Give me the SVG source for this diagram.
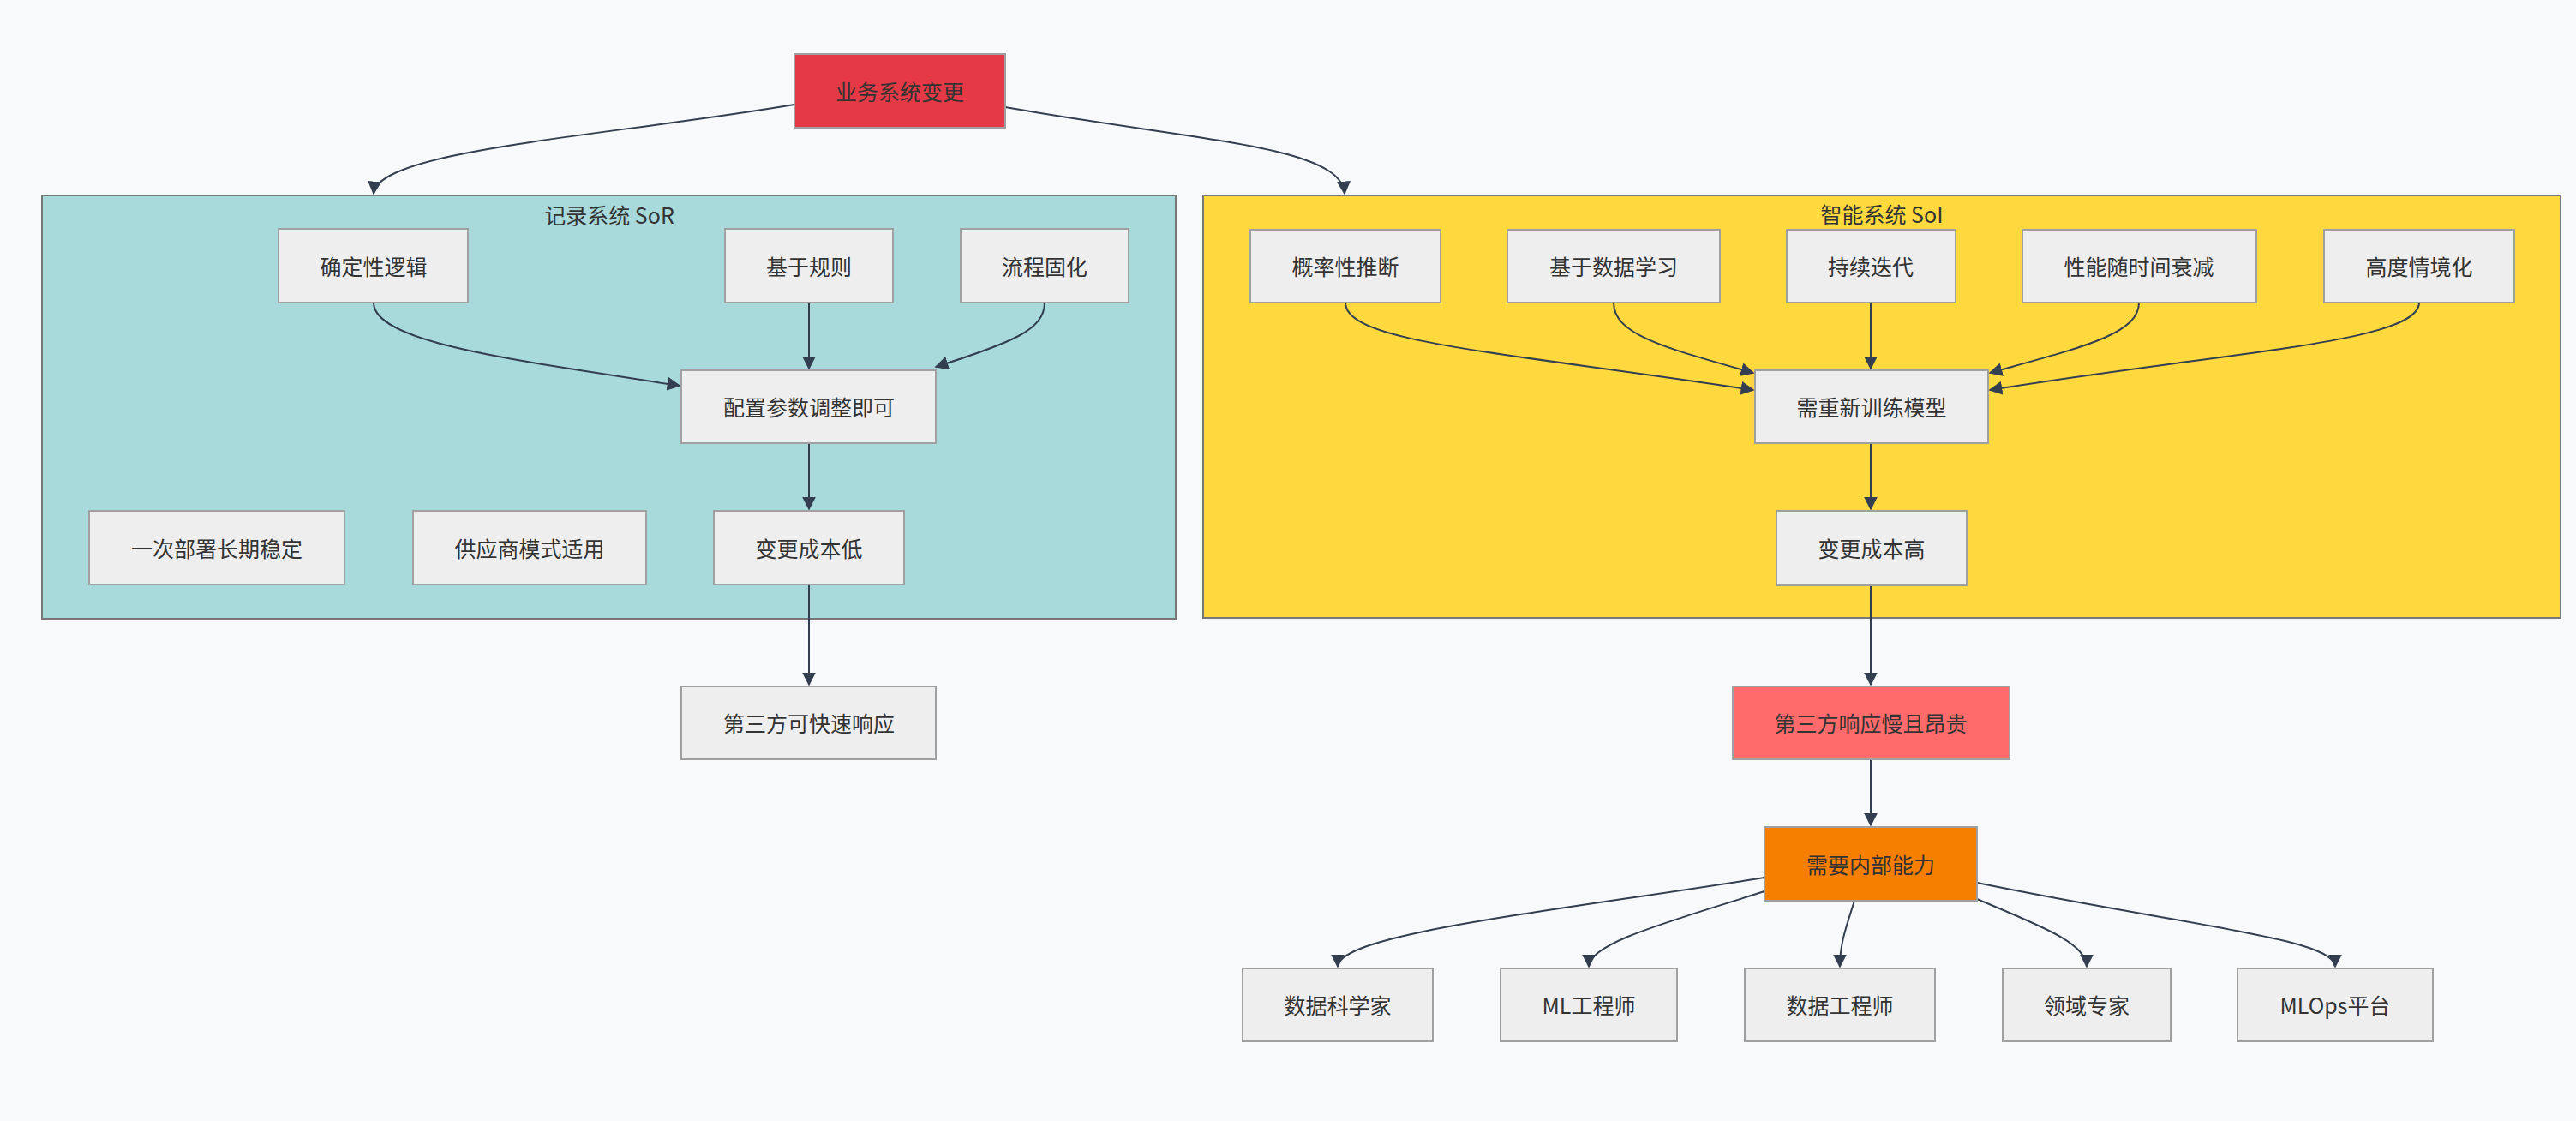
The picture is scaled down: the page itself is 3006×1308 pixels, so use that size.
<svg xmlns="http://www.w3.org/2000/svg" width="3006" height="1308" viewBox="0 0 3006 1308">
<style>
.n rect{fill:#eeeeee;stroke:#a0a0a0;stroke-width:2}
text{font-family:"Noto Sans CJK SC","Liberation Sans",sans-serif;font-size:25px;fill:#333;text-anchor:middle;dominant-baseline:central}
.e path{fill:none;stroke:#333f50;stroke-width:2;marker-end:url(#a)}
</style>
<defs><marker id="a" viewBox="0 0 10 10" refX="9" refY="5" markerWidth="8" markerHeight="8" orient="auto-start-reverse"><path d="M0,0L10,5L0,10z" fill="#333f50"/></marker></defs>
<rect width="3006" height="1308" fill="#f8f9fb"/>
<g id="SoR"><rect x="49" y="228" width="1323" height="494" fill="#a8dadc" stroke="#777" stroke-width="2"/><text x="711" y="250">记录系统 SoR</text></g>
<g id="SoI"><rect x="1404" y="228" width="1584" height="493" fill="#ffd93d" stroke="#777" stroke-width="2"/><text x="2196" y="249">智能系统 SoI</text></g>
<g class="e">
<path d="M927,122 C700,160 440,175 436,226"/>
<path d="M1173,125 C1400,165 1565,170 1569,226"/>
<path d="M436,353 C436,400 600,420 793,450"/>
<path d="M944,353 L944,430"/>
<path d="M1219,353 C1219,385 1180,400 1092,428"/>
<path d="M944,517 L944,594"/>
<path d="M944,682 L944,799"/>
<path d="M1570,353 C1570,400 1750,410 2046,455"/>
<path d="M1883,353 C1883,390 1940,405 2046,435"/>
<path d="M2183,353 L2183,430"/>
<path d="M2496,353 C2496,390 2430,405 2322,435"/>
<path d="M2823,353 C2823,400 2600,410 2322,455"/>
<path d="M2183,517 L2183,594"/>
<path d="M2183,683 L2183,799"/>
<path d="M2183,886 L2183,963"/>
<path d="M2059,1024 C1800,1065 1561,1090 1561,1128"/>
<path d="M2059,1040 C1950,1075 1854,1100 1854,1128"/>
<path d="M2164,1051 C2155,1080 2147,1100 2147,1128"/>
<path d="M2307,1049 C2380,1080 2435,1100 2435,1128"/>
<path d="M2307,1030 C2550,1080 2725,1095 2725,1128"/>
</g>
<g id="root" class="n"><rect x="927" y="63" width="246" height="86" style="fill:#e63946"/><text x="1050" y="106">业务系统变更</text></g>
<g id="r1" class="n"><rect x="325" y="267" width="221" height="86"/><text x="436" y="310">确定性逻辑</text></g>
<g id="r2" class="n"><rect x="846" y="267" width="196" height="86"/><text x="944" y="310">基于规则</text></g>
<g id="r3" class="n"><rect x="1121" y="267" width="196" height="86"/><text x="1219" y="310">流程固化</text></g>
<g id="r4" class="n"><rect x="795" y="432" width="297" height="85"/><text x="944" y="474">配置参数调整即可</text></g>
<g id="r5" class="n"><rect x="104" y="596" width="298" height="86"/><text x="253" y="639">一次部署长期稳定</text></g>
<g id="r6" class="n"><rect x="482" y="596" width="272" height="86"/><text x="618" y="639">供应商模式适用</text></g>
<g id="r7" class="n"><rect x="833" y="596" width="222" height="86"/><text x="944" y="639">变更成本低</text></g>
<g id="r8" class="n"><rect x="795" y="801" width="297" height="85"/><text x="944" y="843">第三方可快速响应</text></g>
<g id="i1" class="n"><rect x="1459" y="268" width="222" height="85"/><text x="1570" y="310">概率性推断</text></g>
<g id="i2" class="n"><rect x="1759" y="268" width="248" height="85"/><text x="1883" y="310">基于数据学习</text></g>
<g id="i3" class="n"><rect x="2085" y="268" width="197" height="85"/><text x="2183" y="310">持续迭代</text></g>
<g id="i4" class="n"><rect x="2360" y="268" width="273" height="85"/><text x="2496" y="310">性能随时间衰减</text></g>
<g id="i5" class="n"><rect x="2712" y="268" width="222" height="85"/><text x="2823" y="310">高度情境化</text></g>
<g id="i6" class="n"><rect x="2048" y="432" width="272" height="85"/><text x="2184" y="474">需重新训练模型</text></g>
<g id="i7" class="n"><rect x="2073" y="596" width="222" height="87"/><text x="2184" y="639">变更成本高</text></g>
<g id="i8" class="n"><rect x="2022" y="801" width="323" height="85" style="fill:#ff6b6b"/><text x="2183" y="843">第三方响应慢且昂贵</text></g>
<g id="i9" class="n"><rect x="2059" y="965" width="248" height="86" style="fill:#f77f00"/><text x="2183" y="1008">需要内部能力</text></g>
<g id="b1" class="n"><rect x="1450" y="1130" width="222" height="85"/><text x="1561" y="1172">数据科学家</text></g>
<g id="b2" class="n"><rect x="1751" y="1130" width="206" height="85"/><text x="1854" y="1172">ML工程师</text></g>
<g id="b3" class="n"><rect x="2036" y="1130" width="222" height="85"/><text x="2147" y="1172">数据工程师</text></g>
<g id="b4" class="n"><rect x="2337" y="1130" width="196" height="85"/><text x="2435" y="1172">领域专家</text></g>
<g id="b5" class="n"><rect x="2611" y="1130" width="228" height="85"/><text x="2725" y="1172">MLOps平台</text></g>
</svg>
